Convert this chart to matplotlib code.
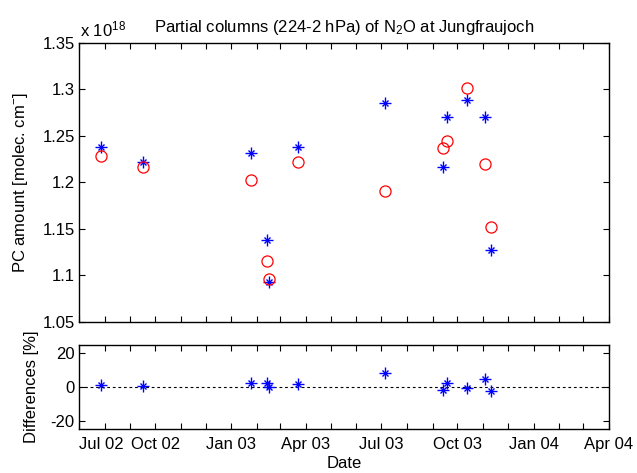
import matplotlib
matplotlib.use("Agg")
import matplotlib.pyplot as plt
import matplotlib.dates as mdates
from matplotlib.ticker import FixedLocator, FuncFormatter
import datetime as dt

plt.rcParams['font.family'] = ['Liberation Sans', 'DejaVu Sans']
plt.rcParams['mathtext.fontset'] = 'custom'
plt.rcParams['mathtext.rm'] = 'Liberation Sans'
plt.rcParams['mathtext.it'] = 'Liberation Sans'
plt.rcParams['axes.unicode_minus'] = False

# ---- data (partial columns in units of 1e18 molec/cm2) ----
dates = ["2002-07-27", "2002-09-16", "2003-01-25", "2003-02-13", "2003-02-16",
         "2003-03-23", "2003-07-06", "2003-09-14", "2003-09-18", "2003-10-13",
         "2003-11-03", "2003-11-10"]
ftir_pc = [1.2383, 1.2222, 1.2312, 1.1380, 1.0925, 1.2380, 1.2856, 1.2168,
           1.2702, 1.2885, 1.2702, 1.1272]          # blue stars
model_pc = [1.2283, 1.2165, 1.2025, 1.1154, 1.0960, 1.2215, 1.1906, 1.2369,
            1.2444, 1.3011, 1.2200, 1.1523]         # red circles
diff_pct = [1.2, 0.6, 2.6, 2.2, -0.2, 2.0, 8.6, -1.8, 2.6, -0.8, 4.6, -2.2]

top_yticks = [1.05, 1.1, 1.15, 1.2, 1.25, 1.3, 1.35]
bot_yticks = [-20, 0, 20]
xlim_dates = ["2002-07-01", "2004-04-01"]
label_months = [(2002, 7), (2002, 10), (2003, 1), (2003, 4), (2003, 7),
                (2003, 10), (2004, 1), (2004, 4)]

x = [dt.datetime.strptime(d, "%Y-%m-%d") for d in dates]
xl = [dt.datetime.strptime(d, "%Y-%m-%d") for d in xlim_dates]

W, H = 637, 473
fig = plt.figure(figsize=(W / 100, H / 100), dpi=100)
ax1 = fig.add_axes([79 / W, 1 - 321.5 / H, 530 / W, 278.5 / H])
ax2 = fig.add_axes([79 / W, 1 - 429 / H, 530 / W, 84 / H])

fs = 12

def style(ax):
    ax.tick_params(direction='in', top=True, right=True, length=4, width=0.8,
                   labelsize=fs, colors='black', pad=3)
    ax.tick_params(axis='x', pad=6)
    for s in ax.spines.values():
        s.set_linewidth(1.0)
    ax.set_xlim(xl[0], xl[1])
    ax.xaxis.set_major_locator(mdates.MonthLocator())
    ax.xaxis.set_minor_locator(mdates.MonthLocator())

def star(ax, xs, ys):
    ax.plot(xs, ys, linestyle='none', marker='+', color=(0, 0, 1),
            markersize=8, markeredgewidth=1.0)
    ax.plot(xs, ys, linestyle='none', marker='x', color=(0, 0, 1),
            markersize=5, markeredgewidth=1.0)

# top panel
style(ax1)
star(ax1, x, ftir_pc)
ax1.plot(x, model_pc, linestyle='none', marker='o', markerfacecolor='none',
         markeredgecolor=(1, 0, 0), markersize=8, markeredgewidth=0.9)
ax1.set_ylim(1.05, 1.35)
ax1.yaxis.set_major_locator(FixedLocator(top_yticks))
ax1.yaxis.set_major_formatter(FuncFormatter(lambda v, p: "%g" % round(v, 2)))
ax1.set_xticklabels([])
ax1.set_ylabel("PC amount [molec. cm$^{-}$]", fontsize=fs)
ax1.yaxis.set_label_coords(-0.0925, 0.5)
ax1.set_title("Partial columns (224-2 hPa) of N$_2$O at Jungfraujoch",
              fontsize=fs, pad=8)
fig.text(80 / W, 1 - 36 / H, "x 10$^{18}$", fontsize=fs, ha='left',
         va='baseline')

# bottom panel
style(ax2)
ax2.axhline(0, color='black', linestyle=(0, (2.5, 2.5)), linewidth=0.8)
star(ax2, x, diff_pct)
ax2.set_ylim(-25, 25)
ax2.yaxis.set_major_locator(FixedLocator(bot_yticks))
ax2.yaxis.set_major_formatter(FuncFormatter(lambda v, p: "%d" % v))
labset = set(label_months)

def xfmt(v, p):
    d = mdates.num2date(v)
    if (d.year, d.month) in labset:
        return d.strftime("%b %y")
    return ""

ax2.xaxis.set_major_formatter(FuncFormatter(xfmt))
ax2.set_ylabel("Differences [%]", fontsize=fs)
ax2.yaxis.set_label_coords(-0.0755, 0.5)
ax2.set_xlabel("Date", fontsize=fs, labelpad=3)
fig.canvas.draw()
labs = ax2.get_xticklabels()
for lab in labs:
    if lab.get_text() == "Jul 02":
        lab.set_horizontalalignment('left')

fig.savefig("out.png", dpi=100)
